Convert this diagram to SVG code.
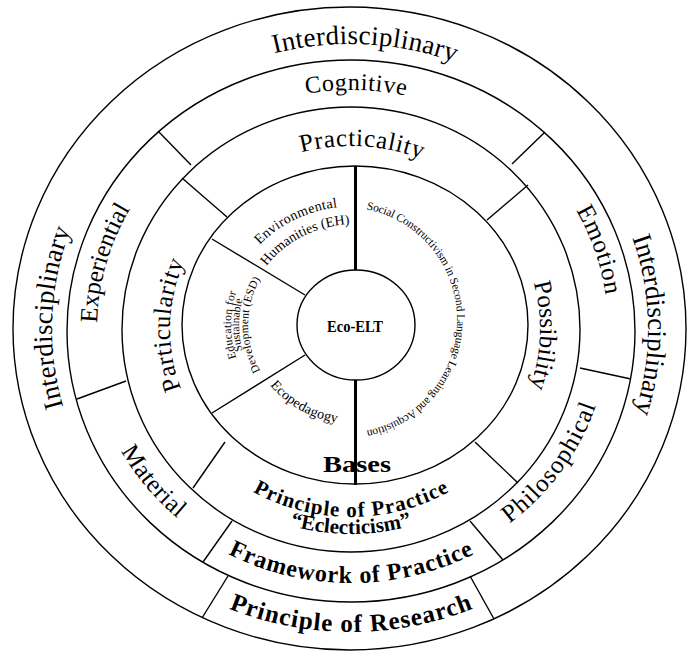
<svg xmlns="http://www.w3.org/2000/svg" width="687" height="652" viewBox="0 0 687 652">
<style>
.ring{fill:none;stroke:#000;stroke-width:1.4}
.div{stroke:#000;stroke-width:1.4;fill:none}
.axis{stroke:#000;stroke-width:3}
text{font-family:"Liberation Serif","Times New Roman",serif;fill:#000}
.b{font-weight:bold}
</style>
<defs>
<path id="p-int-top" d="M 86.9 195.2 A 298 285 0 0 1 626.3 222.2"/>
<path id="p-int-left" d="M 169.8 556 A 298 285 0 0 1 188.6 89.4"/>
<path id="p-int-right" d="M 517.5 93.3 A 298 285 0 0 1 524.3 560.2"/>
<path id="p-research" d="M 76.5 480.5 A 317 303 0 0 0 625.5 480.5"/>
<path id="p-cognitive" d="M 194 143 A 250 239 0 0 1 515.4 148.9"/>
<path id="p-experiential" d="M 120.2 430.5 A 254 243 0 0 1 206.4 129.2"/>
<path id="p-emotion" d="M 504.9 132 A 257 246 0 0 1 597 400.1"/>
<path id="p-material" d="M 88.5 344.4 A 263 252 0 0 0 276.3 570.6"/>
<path id="p-philosophical" d="M 397.5 571.5 A 257.6 246.5 0 0 0 604.4 284.5"/>
<path id="p-framework" d="M 121.5 456 A 265 254 0 0 0 580.5 456"/>
<path id="p-pop" d="M 200.9 449.8 A 196 188 0 0 0 501.1 449.8"/>
<path id="p-eclect" d="M 213.4 486 A 214 205 0 0 0 488.6 486"/>
<path id="p-practicality" d="M 224 192.4 A 191 183 0 0 1 493.6 207.3"/>
<path id="p-particularity" d="M 231.5 459 A 181 173 0 0 1 237.8 194"/>
<path id="p-possibility" d="M 489 205.3 A 189 181 0 0 1 480.1 461.2"/>
<path id="p-eh1" d="M 245.6 261.9 A 129 119 0 0 1 359.5 206.1"/>
<path id="p-eh2" d="M 257.2 280.4 A 109 101 0 0 1 366.8 224.6"/>
<path id="p-esd1" d="M 275.3 413.1 A 124 115 0 0 1 275.3 236.9"/>
<path id="p-esd2" d="M 280.4 406.9 A 116 107 0 0 1 280.4 243.1"/>
<path id="p-esd3" d="M 286.2 400.8 A 107 99 0 0 1 286.2 249.2"/>
<path id="p-eco" d="M 253.5 356.2 A 107 99 0 0 0 370.6 422.9"/>
<path id="p-social" d="M 348.9 207.1 A 113 113 0 0 1 348.9 432.9"/>
</defs>
<rect width="687" height="652" fill="#fff"/>

<g id="rings">
<ellipse class="ring" cx="349.5" cy="328.5" rx="336.5" ry="321.5"/>
<ellipse class="ring" cx="351" cy="331" rx="284" ry="271"/>
<ellipse class="ring" cx="351" cy="329.5" rx="229" ry="222.5"/>
<ellipse class="ring" cx="355" cy="325" rx="173" ry="159"/>
</g>

<g id="connectors">
<line class="axis" x1="355.5" y1="166" x2="355.5" y2="270"/>
<line class="axis" x1="355.5" y1="380" x2="355.5" y2="485"/>
<line class="div" x1="305" y1="295" x2="212" y2="239"/>
<line class="div" x1="305" y1="355" x2="212" y2="413"/>
<line class="div" x1="227" y1="217" x2="182" y2="178"/>
<line class="div" x1="487" y1="220" x2="528" y2="185"/>
<line class="div" x1="225" y1="442" x2="193" y2="488"/>
<line class="div" x1="475" y1="442" x2="518" y2="483"/>
<line class="div" x1="191" y1="165" x2="158" y2="131"/>
<line class="div" x1="512" y1="164" x2="545" y2="132"/>
<line class="div" x1="126" y1="381" x2="77" y2="399"/>
<line class="div" x1="580" y1="368" x2="631" y2="379"/>
<line class="div" x1="232" y1="521" x2="203" y2="562"/>
<line class="div" x1="470" y1="521" x2="503" y2="560"/>
<line class="div" x1="228" y1="576" x2="202" y2="618"/>
<line class="div" x1="470" y1="576" x2="494" y2="619"/>
</g>

<g id="eco-elt">
<ellipse class="ring" cx="356" cy="325" rx="59" ry="55"/>
<text class="b" x="355" y="332" font-size="16" text-anchor="middle" textLength="56" lengthAdjust="spacingAndGlyphs">Eco-ELT</text>
</g>

<g id="interdisciplinary-top"><text font-size="27" text-anchor="middle"><textPath href="#p-int-top" startOffset="50%" textLength="183">Interdisciplinary</textPath></text></g>
<g id="interdisciplinary-left"><text font-size="27" text-anchor="middle"><textPath href="#p-int-left" startOffset="50%" textLength="180">Interdisciplinary</textPath></text></g>
<g id="interdisciplinary-right"><text font-size="27" text-anchor="middle"><textPath href="#p-int-right" startOffset="50%" textLength="178">Interdisciplinary</textPath></text></g>
<g id="principle-of-research"><text class="b" font-size="25" text-anchor="middle"><textPath href="#p-research" startOffset="50%" textLength="250">Principle of Research</textPath></text></g>

<g id="cognitive"><text font-size="24" text-anchor="middle"><textPath href="#p-cognitive" startOffset="50%" textLength="100">Cognitive</textPath></text></g>
<g id="experiential"><text font-size="25" text-anchor="middle"><textPath href="#p-experiential" startOffset="50%" textLength="120">Experiential</textPath></text></g>
<g id="emotion"><text font-size="25" text-anchor="middle"><textPath href="#p-emotion" startOffset="50%" textLength="90">Emotion</textPath></text></g>
<g id="material"><text font-size="25" text-anchor="middle"><textPath href="#p-material" startOffset="50%" textLength="88">Material</textPath></text></g>
<g id="philosophical"><text font-size="25" text-anchor="middle"><textPath href="#p-philosophical" startOffset="50%" textLength="148">Philosophical</textPath></text></g>
<g id="framework-of-practice"><text class="b" font-size="24" text-anchor="middle"><textPath href="#p-framework" startOffset="50%" textLength="255">Framework of Practice</textPath></text></g>

<g id="practicality"><text font-size="25" text-anchor="middle"><textPath href="#p-practicality" startOffset="50%" textLength="122">Practicality</textPath></text></g>
<g id="particularity"><text font-size="25" text-anchor="middle"><textPath href="#p-particularity" startOffset="50%" textLength="130">Particularity</textPath></text></g>
<g id="possibility"><text font-size="25" text-anchor="middle"><textPath href="#p-possibility" startOffset="50%" textLength="106">Possibility</textPath></text></g>
<g id="principle-of-practice">
<text class="b" font-size="21" text-anchor="middle"><textPath href="#p-pop" startOffset="50%" textLength="205">Principle of Practice</textPath></text>
<text class="b" font-size="21" text-anchor="middle"><textPath href="#p-eclect" startOffset="50%" textLength="124">“Eclecticism”</textPath></text>
</g>

<g id="bases"><text class="b" x="357" y="472" font-size="23" text-anchor="middle" textLength="68" lengthAdjust="spacingAndGlyphs">Bases</text></g>
<g id="eh">
<text font-size="14" text-anchor="middle"><textPath href="#p-eh1" startOffset="50%" textLength="88">Environmental</textPath></text>
<text font-size="14" text-anchor="middle"><textPath href="#p-eh2" startOffset="50%" textLength="96">Humanities (EH)</textPath></text>
</g>
<g id="esd">
<text font-size="11.5" text-anchor="middle"><textPath href="#p-esd1" startOffset="50%" textLength="67">Education for</textPath></text>
<text font-size="11.5" text-anchor="middle"><textPath href="#p-esd2" startOffset="50%" textLength="52">Sustainable</textPath></text>
<text font-size="11.5" text-anchor="middle"><textPath href="#p-esd3" startOffset="50%" textLength="96">Development (ESD)</textPath></text>
</g>
<g id="ecopedagogy"><text font-size="14" text-anchor="middle"><textPath href="#p-eco" startOffset="50%" textLength="78">Ecopedagogy</textPath></text></g>
<g id="social-constructivism"><text font-size="11.5" text-anchor="middle"><textPath href="#p-social" startOffset="50%" textLength="310">Social Constructivism in Second Language Learning and Acquisition</textPath></text></g>
</svg>
